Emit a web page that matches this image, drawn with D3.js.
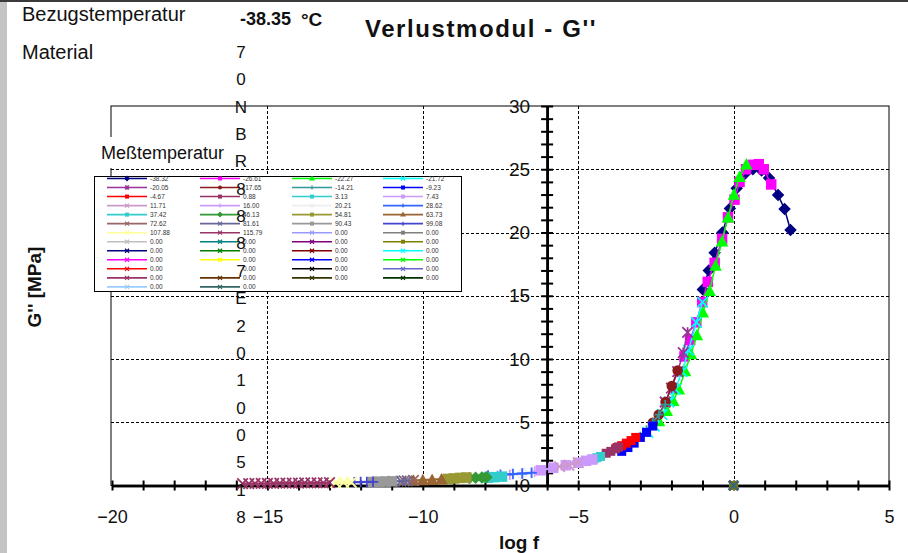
<!DOCTYPE html>
<html><head><meta charset="utf-8">
<script src="https://cdn.jsdelivr.net/npm/d3@7"></script>
<style>body{margin:0;background:#fff}svg{display:block}text{font-family:"Liberation Sans",Arial,sans-serif}</style>
</head><body><svg id="c" width="908" height="553"></svg>
<script>
// ---------------- data ----------------
const refTempLabel = "Bezugstemperatur";
const refTempValue = "-38.35";
const materialCode = "70NBR8887E20100518";
const xTicks = [-20,-15,-10,-5,0,5];
const yTicks = [0,5,10,15,20,25,30];

const seriesTemps = [
 "-38.32","-26.61","-22.27","-21.72",
 "-20.05","-17.65","-14.21","-9.23",
 "-4.67","0.88","3.13","7.43",
 "11.71","16.00","20.21","28.62",
 "37.42","46.13","54.81","63.73",
 "72.62","81.61","90.43","99.08",
 "107.88","115.79","0.00","0.00",
 "0.00","0.00","0.00","0.00",
 "0.00","0.00","0.00","0.00",
 "0.00","0.00","0.00","0.00",
 "0.00","0.00","0.00","0.00",
 "0.00","0.00","0.00","0.00",
 "0.00","0.00"];
const seriesColors = [
 "#000080","#FF00FF","#00FF00","#00FFFF",
 "#993399","#8B1A1A","#339999","#0000FF",
 "#FF0000","#993366","#33CCCC","#CC99FF",
 "#CC99CC","#CC99FF","#EEEEEE","#3366FF",
 "#33CCCC","#339933","#999933","#996633",
 "#996666","#666699","#999999","#4444CC",
 "#FFFF99","#993366","#9999FF","#808080",
 "#C0C0C0","#008080","#800080","#808000",
 "#000080","#008000","#800000","#00FFFF",
 "#FF00FF","#FFFF00","#0000FF","#00FF00",
 "#FF0000","#FFFFFF","#000000","#6666CC",
 "#993366","#663300","#333300","#003300",
 "#99CCFF","#336666"];
const seriesShapes = [
 "diamond","square","triangle","x",
 "star","circle","plus","square",
 "square","square","square","square",
 "x","plus","x","plus",
 "square","diamond","square","triangle",
 "x","x","square","plus",
 "x","x","x","square",
 "x","x","x","square",
 "x","x","x","x",
 "x","x","x","x",
 "x","x","x","x",
 "x","x","x","x",
 "x","x"];

const s01 = [[-0.99,15.5],[-0.8,17.0],[-0.61,18.4],[-0.36,20.0],[-0.12,21.9],[0.1,23.5],[0.35,24.6],[0.62,25.0],[0.9,24.9],[1.14,24.3],[1.43,22.96],[1.64,21.85],[1.83,20.2]];
const s02 = [[-1.58,10.2],[-1.4,11.5],[-1.2,12.9],[-1.01,14.5],[-0.83,16.1],[-0.61,17.6],[-0.37,19.5],[-0.18,21.2],[0.03,22.6],[0.19,24.0],[0.4,25.0],[0.62,25.35],[0.81,25.4],[0.97,25.0],[1.21,23.8]];
const s03 = [[-2.4,5.1],[-2.15,5.9],[-1.94,6.7],[-1.76,7.6],[-1.56,9.05],[-1.37,10.4],[-1.18,11.9],[-0.99,13.7],[-0.77,15.4],[-0.58,17.4],[-0.37,19.3],[-0.18,21.2],[0.01,23.0],[0.19,24.4],[0.41,25.4]];
const s04 = [[-2.76,4.2],[-2.55,4.7],[-2.3,5.6],[-2.08,6.6],[-1.88,7.6],[-1.66,9.0],[-1.45,10.7],[-1.2,12.9],[-1.0,14.5]];
const s05 = [[-2.2,6.6],[-2.0,7.7],[-1.8,9.0],[-1.62,10.5],[-1.48,12.1]];
const s06 = [[-2.6,4.96],[-2.41,5.6],[-2.19,6.6],[-1.99,7.86],[-1.8,9.1]];
const s07 = [[-3.0,3.9],[-2.8,4.4],[-2.6,5.0],[-2.4,5.6],[-2.2,6.4]];
const s08 = [[-3.6,2.7],[-3.4,3.0],[-3.2,3.35],[-3.0,3.8],[-2.8,4.2],[-2.6,4.7]];
const s09 = [[-3.75,3.0],[-3.6,3.15],[-3.45,3.35],[-3.3,3.55],[-3.15,3.8]];
const s10 = [[-4.1,2.55],[-3.95,2.7],[-3.8,2.9],[-3.7,3.05]];
const s11 = [[-4.5,2.1],[-4.4,2.2],[-4.28,2.3]];
const s12 = [[-6.2,1.2],[-5.8,1.4],[-5.4,1.6],[-5.0,1.8],[-4.75,1.95],[-4.55,2.05]];
const s13 = [[-5.6,1.5],[-5.3,1.6],[-5.0,1.8]];
const s14 = [[-8.0,0.7],[-7.6,0.78],[-7.2,0.85],[-6.8,0.95],[-6.4,1.1]];
const s15 = [[-7.0,0.9],[-6.6,1.0]];
const s16 = [[-7.9,0.8],[-7.5,0.85],[-7.1,0.9],[-6.8,0.95],[-6.5,1.0]];
const s17 = [[-7.9,0.62],[-7.7,0.66],[-7.45,0.7]];
const s18 = [[-8.5,0.6],[-8.3,0.62],[-8.1,0.64],[-7.95,0.66]];
const s19 = [[-9.2,0.52],[-9.0,0.56],[-8.8,0.6],[-8.6,0.63]];
const s20 = [[-10.3,0.4],[-10.0,0.43],[-9.7,0.46],[-9.4,0.5]];
const s21 = [[-10.6,0.37],[-10.3,0.4]];
const s22 = [[-10.95,0.33],[-10.7,0.35],[-10.5,0.37]];
const s23 = [[-11.6,0.28],[-11.4,0.3],[-11.2,0.31],[-11.0,0.33]];
const s24 = [[-12.2,0.26],[-12.0,0.27],[-11.8,0.28],[-11.6,0.29]];
const s25 = [[-12.8,0.23],[-12.55,0.24],[-12.3,0.25]];
const s26 = [[-15.8,0.15],[-15.6,0.15],[-15.4,0.16],[-15.2,0.16],[-15.0,0.17],[-14.8,0.17],[-14.6,0.18],[-14.4,0.18],[-14.2,0.19],[-14.0,0.19],[-13.8,0.2],[-13.6,0.2],[-13.4,0.21],[-13.2,0.21],[-13.0,0.22]];
const sZero = [[0,0]];
const seriesPoints = [s01,s02,s03,s04,s05,s06,s07,s08,s09,s10,s11,s12,s13,s14,s15,s16,s17,s18,s19,s20,s21,s22,s23,s24,s25,s26];
while (seriesPoints.length < seriesTemps.length) seriesPoints.push(sZero);

// ---------------- drawing ----------------
const svg = d3.select("#c");
svg.append("rect").attr("width",908).attr("height",553).attr("fill","#fff");
svg.append("rect").attr("x",0).attr("y",0).attr("width",7).attr("height",553).attr("fill","#C4C4C4");
svg.append("rect").attr("x",0).attr("y",0).attr("width",908).attr("height",2).attr("fill","#3a3a3a");

const x = d3.scaleLinear().domain([-20,5]).range([112,889]);
const y = d3.scaleLinear().domain([0,30]).range([485.5,106]);

// frame
svg.append("rect").attr("x",x(-20)-1).attr("y",y(30)).attr("width",x(5)-x(-20)+1).attr("height",y(0)-y(30))
  .attr("fill","none").attr("stroke","#000").attr("stroke-width",1);

// grid
const grid = svg.append("g").attr("stroke","#000").attr("stroke-width",1).attr("stroke-dasharray","3,2");
grid.selectAll(".gh").data([5,10,15,20,25]).enter().append("line")
  .attr("x1",x(-20)-1).attr("x2",x(5)).attr("y1",d=>Math.round(y(d))+0.5).attr("y2",d=>Math.round(y(d))+0.5);
grid.selectAll(".gv").data([-15,-10,-5,0]).enter().append("line")
  .attr("y1",y(30)).attr("y2",y(0)).attr("x1",d=>Math.round(x(d))+0.5).attr("x2",d=>Math.round(x(d))+0.5);

// axes
function styleAxis(g){ g.selectAll("path.domain").attr("stroke","#000").attr("stroke-width",2.5);
  g.selectAll(".tick line").attr("stroke","#000").attr("stroke-width",2); }
const xg1 = svg.append("g").attr("transform",`translate(0,${y(0)})`)
  .call(d3.axisBottom(x).tickValues(d3.range(-20,6)).tickSize(5).tickSizeOuter(0).tickFormat(""));
const xg2 = svg.append("g").attr("transform",`translate(0,${y(0)})`)
  .call(d3.axisTop(x).tickValues(d3.range(-20,6)).tickSize(5).tickSizeOuter(0).tickFormat(""));
styleAxis(xg1); styleAxis(xg2);
const xl = svg.append("g").attr("transform",`translate(0,${y(0)})`)
  .call(d3.axisBottom(x).tickValues(xTicks).tickSize(0).tickPadding(25));
xl.select(".domain").remove();
xl.selectAll("text").attr("font-size",18).attr("fill","#111").attr("font-family","Liberation Sans, Arial, sans-serif");

const yg1 = svg.append("g").attr("transform",`translate(${x(-6)},0)`)
  .call(d3.axisLeft(y).tickValues(d3.range(0,31)).tickSize(6).tickSizeOuter(0).tickFormat(""));
const yg2 = svg.append("g").attr("transform",`translate(${x(-6)},0)`)
  .call(d3.axisRight(y).tickValues(d3.range(0,31)).tickSize(6).tickSizeOuter(0).tickFormat(""));
styleAxis(yg1); styleAxis(yg2);
const yl = svg.append("g").attr("transform",`translate(${x(-6)},0)`)
  .call(d3.axisLeft(y).tickValues(yTicks).tickSize(0).tickPadding(17));
yl.select(".domain").remove();
yl.selectAll("text").attr("font-size",19).attr("fill","#111").attr("font-family","Liberation Sans, Arial, sans-serif");

// markers
function markerPath(type, s){
  const h = s/2;
  switch(type){
    case "square": return `M${-h},${-h}h${s}v${s}h${-s}Z`;
    case "diamond": return `M0,${-h-1}L${h+1},0L0,${h+1}L${-h-1},0Z`;
    case "triangle": return `M0,${-h-1}L${h+1},${h}L${-h-1},${h}Z`;
    case "circle": return `M${h},0A${h},${h} 0 1,1 ${-h},0A${h},${h} 0 1,1 ${h},0Z`;
    case "x": return `M${-h},${-h}L${h},${h}M${-h},${h}L${h},${-h}`;
    case "plus": return `M${-h},0H${h}M0,${-h}V${h}`;
    case "star": return `M${-h},${-h}L${h},${h}M${-h},${h}L${h},${-h}M0,${-h}V${h}`;
    default: return `M${-h},0H${h}`;
  }
}
const filled = t => ["square","diamond","triangle","circle"].includes(t);

const line = d3.line().x(d=>x(d[0])).y(d=>y(d[1]));
const dataG = svg.append("g");
seriesPoints.forEach((pts,i)=>{
  const col = seriesColors[i], shp = seriesShapes[i];
  const g = dataG.append("g");
  if (pts.length>1) g.append("path").attr("d",line(pts)).attr("fill","none").attr("stroke",col).attr("stroke-width",i>10&&i<26?2.2:1.5);
  const size = i<6 ? 10.5 : (i>10 && i<26 ? 10.5 : 9);
  g.selectAll("path.m").data(pts).enter().append("path").attr("class","m")
    .attr("transform",d=>`translate(${x(d[0])},${y(d[1])})`)
    .attr("d",markerPath(shp,size))
    .attr("fill",filled(shp)?col:"none")
    .attr("stroke",filled(shp)?"none":col)
    .attr("stroke-width",filled(shp)?0:1.8);
});

// Meßtemperatur label with white background
svg.append("rect").attr("x",96).attr("y",137).attr("width",130).attr("height",31).attr("fill","#fff");
svg.append("text").attr("x",101).attr("y",159).attr("font-size",18).attr("fill","#111").text("Meßtemperatur");

// legend
const lg = svg.append("g");
lg.append("rect").attr("x",94.5).attr("y",176.5).attr("width",367).attr("height",115).attr("fill","#fff").attr("stroke","#000").attr("stroke-width",1);
const colX = [107,200,292,383];
seriesTemps.forEach((t,i)=>{
  const r = Math.floor(i/4), c = i%4;
  const lx = colX[c], ly = 178.5 + r*9.03;
  const g = lg.append("g");
  g.append("line").attr("x1",lx).attr("x2",lx+40).attr("y1",ly).attr("y2",ly).attr("stroke",seriesColors[i]).attr("stroke-width",1.6);
  const shp = seriesShapes[i];
  g.append("path").attr("transform",`translate(${lx+20},${ly})`).attr("d",markerPath(shp,4))
    .attr("fill",filled(shp)?seriesColors[i]:"none").attr("stroke",filled(shp)?"none":seriesColors[i]).attr("stroke-width",1.2);
  g.append("text").attr("x",lx+43).attr("y",ly+2.5).attr("font-size",6.5).attr("fill","#333").text(t);
});

// header texts
svg.append("text").attr("x",22).attr("y",21).attr("font-size",20).attr("fill","#111").text(refTempLabel);
svg.append("text").attr("x",240).attr("y",25).attr("font-size",18).attr("font-weight","bold").attr("fill","#111").text(refTempValue);
svg.append("text").attr("x",301).attr("y",26).attr("font-size",19).attr("font-weight","bold").attr("fill","#111").text("°C");
svg.append("text").attr("x",22).attr("y",59).attr("font-size",20).attr("fill","#111").text("Material");
svg.append("text").attr("x",481).attr("y",37).attr("text-anchor","middle").attr("font-size",24).attr("letter-spacing","1.6px")
  .attr("font-weight","bold").attr("fill","#111").text("Verlustmodul - G''");

// vertical material code (wrapped one char per line)
svg.append("g").selectAll("text").data(materialCode.split("")).enter().append("text")
  .attr("x",241).attr("y",(d,i)=>58+i*27.35).attr("text-anchor","middle").attr("font-size",17).attr("fill","#111").text(d=>d);

// axis titles
svg.append("text").attr("transform","translate(41,287) rotate(-90)").attr("text-anchor","middle")
  .attr("font-size",19).attr("font-weight","bold").attr("fill","#111").text("G'' [MPa]");
svg.append("text").attr("x",519).attr("y",549).attr("text-anchor","middle")
  .attr("font-size",19).attr("font-weight","bold").attr("fill","#111").text("log f");
</script>
</body></html>
